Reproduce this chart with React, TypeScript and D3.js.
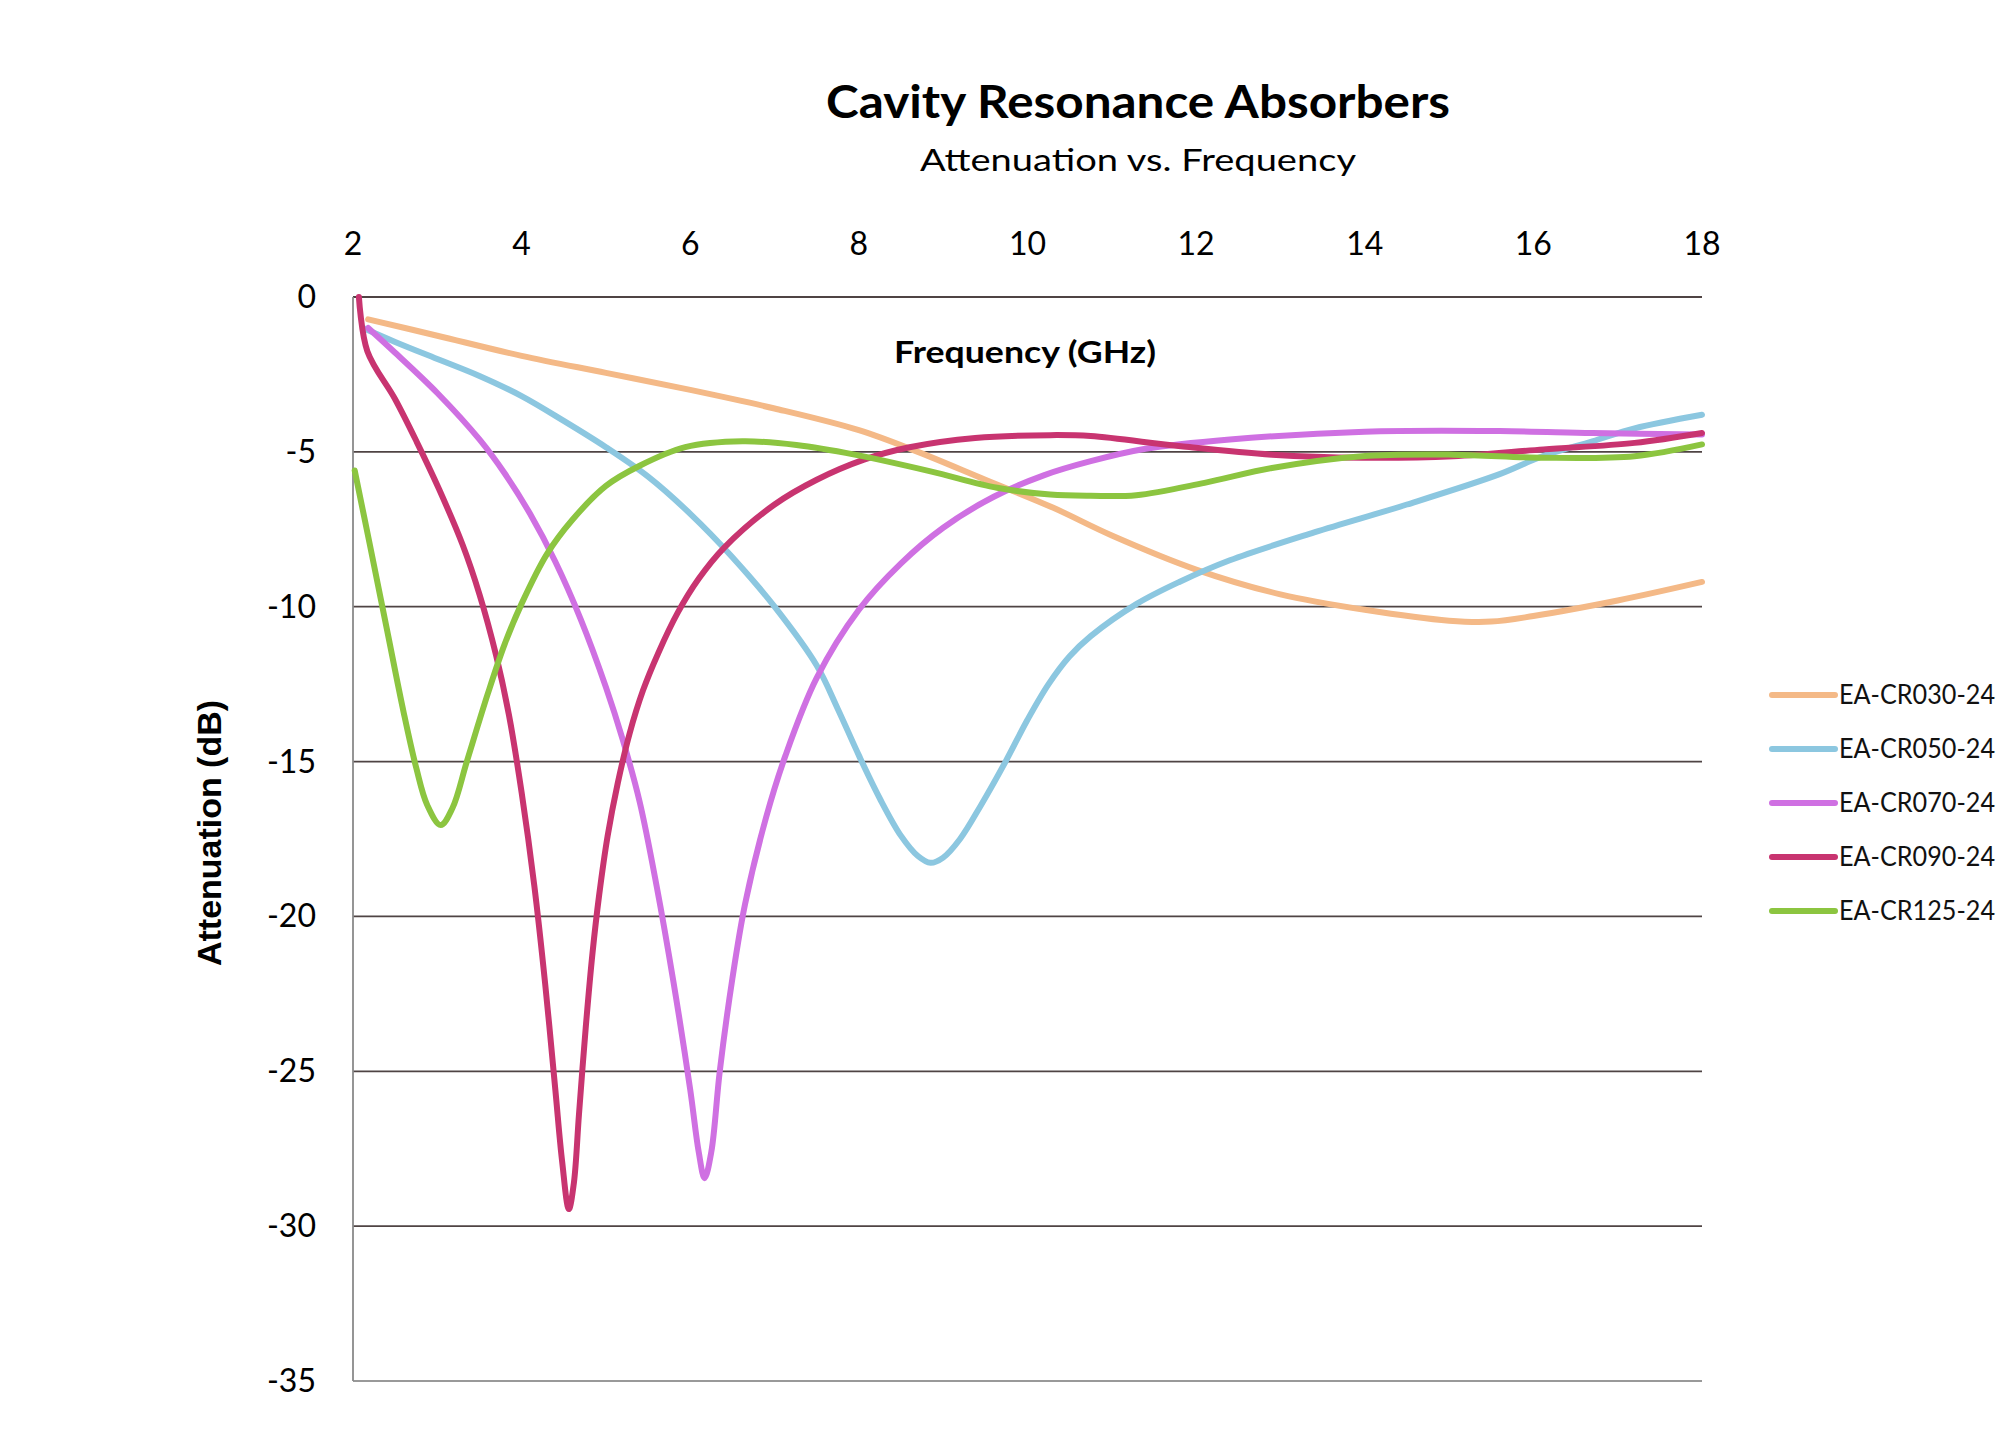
import React from "react";
import * as d3 from "d3";

const xTicks = [2, 4, 6, 8, 10, 12, 14, 16, 18];
const yTicks = [0, -5, -10, -15, -20, -25, -30, -35];

const cr030F = [2.18, 3, 4, 5, 6, 7, 8, 8.7, 9.5, 10.3, 11, 12, 13, 14, 15, 15.5, 16, 17, 18];
const cr030V = [-0.72, -1.25, -1.9, -2.45, -3.0, -3.6, -4.3, -5.0, -5.9, -6.8, -7.7, -8.8, -9.6, -10.1, -10.45, -10.48, -10.3, -9.8, -9.2];

const cr050F = [2.12, 2.5, 3, 3.5, 4, 4.5, 5, 5.5, 6, 6.5, 7, 7.5, 7.75, 8.0, 8.25, 8.5, 8.7, 8.85, 9.0, 9.2, 9.45, 9.74, 10.0, 10.25, 10.5, 10.75, 11.3, 11.8, 12.4, 13.4, 14.5, 15.6, 16.1, 16.7, 17.2, 18];
const cr050V = [-1.0, -1.45, -2.0, -2.55, -3.2, -4.0, -4.85, -5.8, -7.0, -8.4, -10.0, -11.9, -13.3, -14.8, -16.2, -17.4, -18.05, -18.27, -18.1, -17.5, -16.4, -15.0, -13.65, -12.5, -11.6, -10.95, -9.9, -9.2, -8.5, -7.6, -6.7, -5.72, -5.15, -4.66, -4.24, -3.8];

const cr070F = [2.18, 2.5, 3.0, 3.5, 3.8, 4.1, 4.4, 4.7, 5.0, 5.2, 5.4, 5.6, 5.8, 6.0, 6.1, 6.17, 6.25, 6.35, 6.5, 6.65, 6.9, 7.13, 7.5, 8.0, 8.5, 9.0, 9.6, 10.2, 10.75, 11.4, 12.4, 14.0, 15.6, 16.7, 18];
const cr070V = [-1.0, -1.8, -3.1, -4.6, -5.7, -7.0, -8.55, -10.4, -12.6, -14.3, -16.3, -19.0, -22.1, -25.6, -27.6, -28.45, -27.6, -25.0, -22.0, -19.6, -16.8, -14.8, -12.3, -10.1, -8.6, -7.45, -6.45, -5.75, -5.3, -4.9, -4.6, -4.35, -4.33, -4.39, -4.44];

const cr090F = [2.07, 2.17, 2.5, 2.76, 3.02, 3.3, 3.5, 3.7, 3.85, 4.0, 4.15, 4.28, 4.4, 4.48, 4.56, 4.62, 4.68, 4.76, 4.84, 4.92, 5.02, 5.14, 5.28, 5.44, 5.62, 5.85, 6.1, 6.4, 7.0, 7.5, 8.06, 8.6, 9.38, 10.27, 10.75, 11.82, 12.9, 13.97, 15.05, 16.12, 17.2, 18];
const cr090V = [0, -1.75, -3.3, -4.7, -6.2, -8.0, -9.6, -11.6, -13.5, -16.0, -19.0, -22.2, -25.6, -27.9, -29.45, -28.6, -26.4, -23.6, -21.2, -19.3, -17.4, -15.7, -14.1, -12.7, -11.5, -10.2, -9.1, -8.1, -6.7, -5.9, -5.25, -4.85, -4.55, -4.46, -4.49, -4.82, -5.09, -5.19, -5.14, -4.92, -4.71, -4.39];

const cr125F = [2.02, 2.2, 2.4, 2.6, 2.75, 2.88, 3.04, 3.18, 3.35, 3.6, 3.8, 4.0, 4.3, 4.6, 5.0, 5.4, 5.94, 6.62, 7.26, 7.95, 8.85, 9.64, 10.27, 10.75, 11.29, 12.1, 12.9, 13.97, 15.05, 16.12, 17.2, 18];
const cr125V = [-5.6, -8.0, -10.7, -13.4, -15.2, -16.4, -17.05, -16.5, -15.0, -12.8, -11.2, -9.9, -8.3, -7.2, -6.1, -5.45, -4.85, -4.66, -4.78, -5.09, -5.63, -6.16, -6.38, -6.42, -6.4, -6.0, -5.52, -5.14, -5.09, -5.19, -5.14, -4.76];

const seriesNames = ["EA-CR030-24", "EA-CR050-24", "EA-CR070-24", "EA-CR090-24", "EA-CR125-24"];
const seriesColors = ["#F4B987", "#8CC7E0", "#CF70E2", "#C83470", "#8CC540"];
const seriesF = [cr030F, cr050F, cr070F, cr090F, cr125F];
const seriesV = [cr030V, cr050V, cr070V, cr090V, cr125V];

const W = 2014;
const H = 1456;

export default function App() {
  const x = d3.scaleLinear().domain([2, 18]).range([353, 1702]);
  const y = d3.scaleLinear().domain([0, -35]).range([297, 1381]);
  const line = d3
    .line<[number, number]>()
    .x((d) => x(d[0]))
    .y((d) => y(d[1]))
    .curve(d3.curveCatmullRom.alpha(0.5));

  const calibri = "Lato, 'Open Sans', sans-serif";
  const legendY = d3.scaleLinear().domain([0, 4]).range([695, 911]);

  return (
    <svg
      width={W}
      height={H}
      style={{ position: "absolute", left: 0, top: 0, background: "#fff" }}
    >
      <rect x={0} y={0} width={W} height={H} fill="#fff" />
      <text x={1138} y={118} textAnchor="middle" fontFamily={calibri} fontWeight={700} fontSize={46} textLength={624} lengthAdjust="spacingAndGlyphs" fill="#000">
        Cavity Resonance Absorbers
      </text>
      <text x={1138} y={171} textAnchor="middle" fontFamily={calibri} fontWeight={400} fontSize={31} textLength={436} lengthAdjust="spacingAndGlyphs" fill="#000">
        Attenuation vs. Frequency
      </text>

      {yTicks.slice(0, -1).map((t) => (
        <line key={"g" + t} x1={x(2)} x2={x(18)} y1={y(t)} y2={y(t)} stroke="#4f4444" strokeWidth={1.8} />
      ))}
      <line x1={x(2)} x2={x(18)} y1={y(-35)} y2={y(-35)} stroke="#999" strokeWidth={1.8} />
      <line x1={x(2)} x2={x(2)} y1={y(0)} y2={y(-35)} stroke="#8a8a8a" strokeWidth={1.8} />

      {xTicks.map((t) => (
        <text key={"x" + t} x={x(t)} y={255} textAnchor="middle" fontFamily={calibri} fontSize={32} fill="#000">
          {t}
        </text>
      ))}
      {yTicks.map((t) => (
        <text key={"y" + t} x={316} y={y(t) + 11} textAnchor="end" fontFamily={calibri} fontSize={32} fill="#000">
          {t}
        </text>
      ))}

      <text x={1025} y={363} textAnchor="middle" fontFamily={calibri} fontWeight={700} fontSize={30} textLength={262} lengthAdjust="spacingAndGlyphs" fill="#000">
        Frequency (GHz)
      </text>
      <text
        transform={`translate(221, 833) rotate(-90)`}
        textAnchor="middle"
        fontFamily="'Liberation Sans', Arial, sans-serif"
        fontWeight={700}
        fontSize={34}
        textLength={266}
        lengthAdjust="spacingAndGlyphs"
        fill="#000"
      >
        Attenuation (dB)
      </text>

      {seriesNames.map((name, i) => {
        const pts: [number, number][] = seriesF[i].map((f, j) => [f, seriesV[i][j]]);
        return (
          <path key={name} d={line(pts) || ""} fill="none" stroke={seriesColors[i]} strokeWidth={6} strokeLinejoin="round" strokeLinecap="round" />
        );
      })}

      {seriesNames.map((name, i) => (
        <g key={"l" + name}>
          <line x1={1772} x2={1835} y1={legendY(i)} y2={legendY(i)} stroke={seriesColors[i]} strokeWidth={6} strokeLinecap="round" />
          <text x={1839} y={legendY(i) + 9} fontFamily={calibri} fontSize={26} textLength={156} lengthAdjust="spacingAndGlyphs" fill="#111">
            {name}
          </text>
        </g>
      ))}
    </svg>
  );
}
